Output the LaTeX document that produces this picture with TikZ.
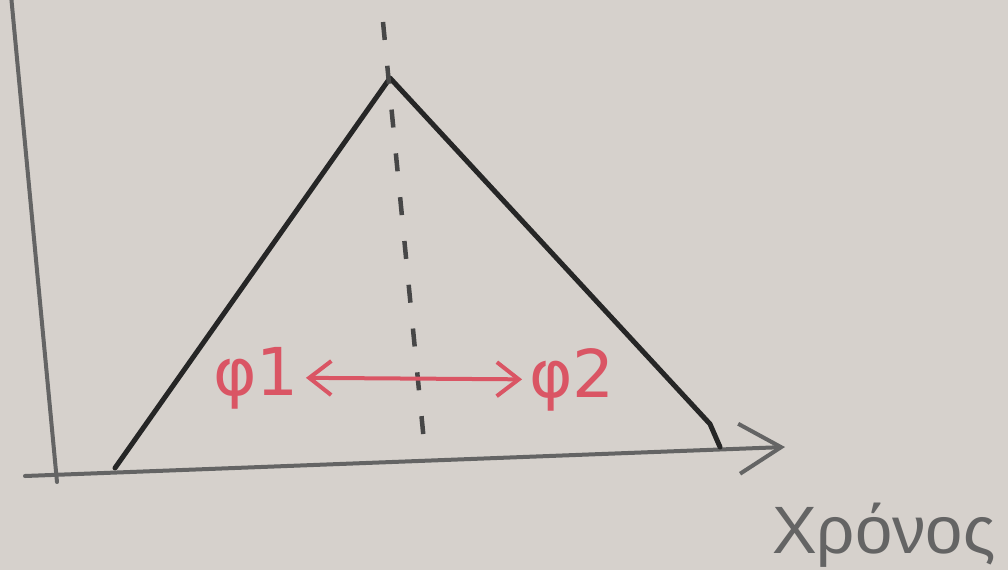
\documentclass[tikz,border=0pt]{standalone}
\usepackage{fontspec}
\setmainfont{Liberation Sans}
\newfontfamily\greekhand{DejaVu Sans}
\usetikzlibrary{arrows.meta}
\definecolor{board}{RGB}{214,209,204}
\definecolor{ink}{RGB}{38,38,38}
\definecolor{axisink}{RGB}{100,100,100}
\definecolor{redink}{RGB}{218,85,100}
\begin{document}
\begin{tikzpicture}[x=1pt,y=-1pt,
  axisline/.style={draw=axisink,line width=4pt,line cap=round},
  curveline/.style={draw=ink,line width=5pt,line cap=round,line join=round},
  divider/.style={draw=ink!85,line width=4.5pt,dash pattern=on 18pt off 26pt},
  phase/.style={text=redink,font=\greekhand\fontsize{66}{66}\selectfont,inner sep=3pt,anchor=base},
  swap/.style={draw=redink,line width=4pt,shorten <=4pt,shorten >=4pt,
    {Straight Barb[length=22pt,width=34pt,line width=4pt]}-{Straight Barb[length=22pt,width=34pt,line width=4pt]}},
  axistip/.style={-{Straight Barb[length=42pt,width=50pt,line width=4pt]}},
  axislabel/.style={text=axisink,font=\fontsize{67}{67}\selectfont,anchor=base west,inner sep=0pt}]
\fill[board] (0,0) rectangle (1008,570);
\useasboundingbox (0,0) rectangle (1008,570);
\clip (0,0) rectangle (1008,570);
% axes
\coordinate (ytop) at (11,-5);
\coordinate (ybot) at (57,482);
\coordinate (xl) at (25,476);
\coordinate (xr) at (785,447);
\draw[axisline] (ybot) -- (ytop);
\draw[axisline,axistip] (xl) -- (xr);
% triangle
\coordinate (bl) at (115,468);
\coordinate (apex) at (390,78);
\coordinate (kink) at (710,424);
\coordinate (br) at (720,447);
\draw[curveline] (bl) -- (apex) -- (kink) -- (br);
% dashed divider
\coordinate (dtop) at (383,22);
\coordinate (dbot) at (425,452);
\draw[divider] (dtop) -- (dbot);
% phases
\node[phase] (p1) at (256,395) {φ1};
\node[phase] (p2) at (572,397) {φ2};
\draw[swap] (p1.east) -- (p2.west);
% time label
\node[axislabel] (time) at (772,553) {Χρόνος};
\end{tikzpicture}
\end{document}
